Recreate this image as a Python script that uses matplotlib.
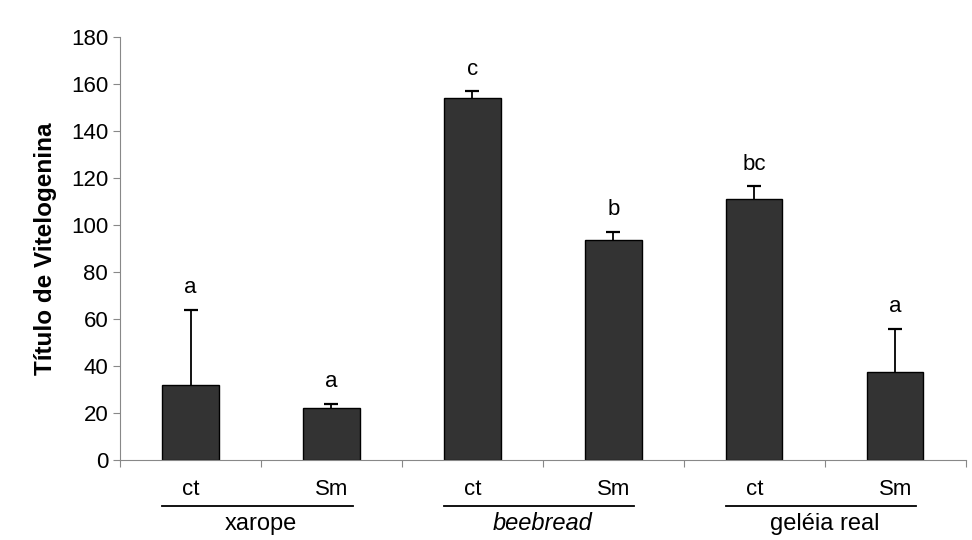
import matplotlib
matplotlib.use('Agg')
import matplotlib.pyplot as plt

# dados
tratamentos = ["ct", "Sm", "ct", "Sm", "ct", "Sm"]
grupos = ["xarope", "beebread", "geléia real"]
medias = [32, 22, 154, 93.5, 111, 37.5]
erros = [32, 2, 3, 3.5, 5.5, 18.5]
letras = ["a", "a", "c", "b", "bc", "a"]

plt.rcParams['font.family'] = ['Liberation Sans', 'DejaVu Sans']

fig = plt.figure(figsize=(9.72, 5.4), dpi=100)
ax = fig.add_axes([0.1235, 0.148, 0.870, 0.783])

x = list(range(len(medias)))
topos = [m + e for m, e in zip(medias, erros)]
ax.bar(x, medias, width=0.40, color="#333333", edgecolor="black", linewidth=1, zorder=2)
# barras de erro só para cima
ax.vlines(x, medias, topos, color="black", lw=1.3, zorder=3)
ax.scatter(x, topos, marker="_", s=110, color="black", linewidths=1.6, zorder=3)

for xi, t, l in zip(x, topos, letras):
    ax.text(xi, t + 5, l, ha="center", va="bottom", fontsize=16)

ax.set_xlim(-0.5, len(medias) - 0.5)
ax.set_ylim(0, 180)
ax.set_yticks(range(0, 181, 20))
ax.tick_params(axis="y", labelsize=16, colors="#888888", labelcolor="black", length=5)
ax.set_xticks([i - 0.5 for i in range(len(medias) + 1)])
ax.set_xticklabels([])
ax.tick_params(axis="x", colors="#888888", length=5)
for s in ["top", "right"]:
    ax.spines[s].set_visible(False)
for s in ["left", "bottom"]:
    ax.spines[s].set_color("#888888")
ax.set_ylabel("Título de Vitelogenina", fontsize=17.5, fontweight="bold", labelpad=10)

# rótulos dos tratamentos e grupos
for xi, t in zip(x, tratamentos):
    ax.text(xi, -0.07, t, transform=ax.get_xaxis_transform(), ha="center",
            va="center", fontsize=16)
for g, nome in enumerate(grupos):
    x0, x1 = 2 * g - 0.2, 2 * g + 1.15
    ax.plot([x0, x1], [-0.108, -0.108], color="black", lw=1.3,
            transform=ax.get_xaxis_transform(), clip_on=False)
    ax.text(2 * g + 0.5, -0.15, nome, transform=ax.get_xaxis_transform(),
            ha="center", va="center", fontsize=17,
            style="italic" if nome == "beebread" else "normal")

plt.savefig("out.png", dpi=100)
plt.close()
